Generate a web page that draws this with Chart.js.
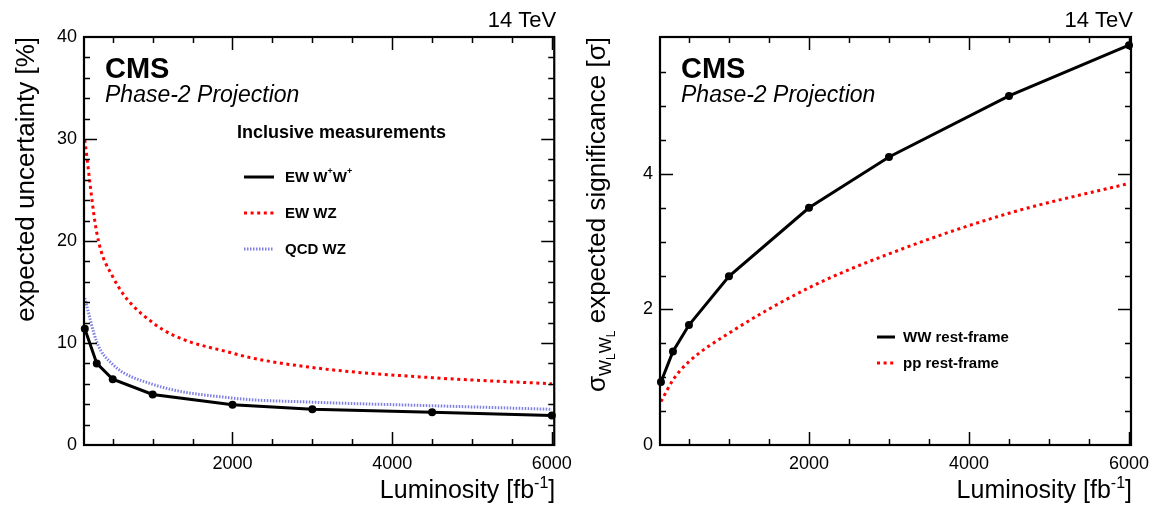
<!DOCTYPE html>
<html>
<head>
<meta charset="utf-8">
<script src="https://cdn.jsdelivr.net/npm/chart.js@4.4.1/dist/chart.umd.min.js"></script>
<style>
  html, body { margin: 0; padding: 0; background: #fff; }
  #wrap { position: relative; width: 1158px; height: 506px; background: #fff; overflow: hidden; }
  .pane { position: absolute; top: 0; height: 506px; }
</style>
</head>
<body>
<div id="wrap">
  <div class="pane" style="left:0;width:580px"><canvas id="c1" width="580" height="506"></canvas></div>
  <div class="pane" style="left:580px;width:578px"><canvas id="c2" width="578" height="506"></canvas></div>
</div>
<script>
// ---------------- data ----------------
const lumi = [150, 300, 500, 1000, 2000, 3000, 4500, 6000];
// left panel: expected uncertainty [%]
const ewWpWp = [11.4, 8.0, 6.45, 4.95, 3.95, 3.5, 3.2, 2.9];
const ewWZ   = [29.9, 20.8, 16.5, 12.0, 9.0, 7.6, 6.6, 6.0];
const qcdWZ  = [14.4, 10.1, 7.9, 5.95, 4.6, 4.2, 3.85, 3.5];
// right panel: expected significance [sigma]
const wwRestFrame = [0.93, 1.38, 1.77, 2.49, 3.50, 4.25, 5.15, 5.90];
const ppRestFrame = [0.64, 0.96, 1.23, 1.65, 2.32, 2.82, 3.42, 3.86];
// tick labels
const xTickLabels = [2000, 4000, 6000];
const yTickLabelsLeft = [0, 10, 20, 30, 40];
const yTickLabelsRight = [0, 2, 4];
// legends
const legendLeftTitle = 'Inclusive measurements';
const legendLeftLabels = ['EW W^+W^+', 'EW WZ', 'QCD WZ'];
const legendRightLabels = ['WW rest-frame', 'pp rest-frame'];

const FONT = "'Liberation Sans', Arial, Helvetica, sans-serif";
Chart.defaults.font.family = FONT;
Chart.defaults.color = '#000';

function pts(ys) { return lumi.map((x, i) => ({ x: x, y: ys[i] })); }
function range(a, b, s) { const r = []; for (let v = a; v <= b + 1e-9; v += s) r.push(+v.toFixed(6)); return r; }

// rich text: ^c superscript, _c subscript
function parseRich(str) {
  const segs = [];
  for (let i = 0; i < str.length; i++) {
    const ch = str[i];
    if ((ch === '^' || ch === '_') && i + 1 < str.length) { segs.push({ t: str[i + 1], m: ch }); i++; }
    else if (segs.length && segs[segs.length - 1].m === 'n') segs[segs.length - 1].t += ch;
    else segs.push({ t: ch, m: 'n' });
  }
  return segs;
}
function drawRich(ctx, str, x, y, size, weight, style) {
  const segs = parseRich(str);
  let cx = x;
  for (const s of segs) {
    const fs = s.m === 'n' ? size : Math.round(size * 0.62);
    ctx.font = (style || 'normal') + ' ' + weight + ' ' + fs + 'px ' + FONT;
    const dy = s.m === '^' ? -size * 0.42 : (s.m === '_' ? size * 0.25 : 0);
    ctx.fillText(s.t, cx, y + dy);
    cx += ctx.measureText(s.t).width;
  }
  return cx - x;
}

function frameAndTicks(chart, spec) {
  const { ctx, chartArea: a, scales: { x, y } } = chart;
  ctx.save();
  ctx.strokeStyle = '#000';
  ctx.lineWidth = 1.5;
  ctx.beginPath();
  for (const v of spec.xMinor) {
    const px = Math.round(x.getPixelForValue(v)) + 0.5;
    const len = spec.xMajor.includes(v) ? 13 : 6;
    ctx.moveTo(px, a.bottom); ctx.lineTo(px, a.bottom - len);
    ctx.moveTo(px, a.top); ctx.lineTo(px, a.top + len);
  }
  for (const v of spec.yMinor) {
    const py = Math.round(y.getPixelForValue(v)) + 0.5;
    const len = spec.yMajor.includes(v) ? 13 : 6;
    ctx.moveTo(a.left, py); ctx.lineTo(a.left + len, py);
    ctx.moveTo(a.right, py); ctx.lineTo(a.right - len, py);
  }
  ctx.stroke();
  ctx.lineWidth = 2.2;
  ctx.strokeRect(a.left, a.top, a.right - a.left, a.bottom - a.top);
  ctx.restore();
}

function drawLegendLine(ctx, ds, x0, x1, yy) {
  ctx.save();
  ctx.strokeStyle = ds.borderColor;
  ctx.lineWidth = ds.borderWidth;
  ctx.setLineDash(ds.borderDash || []);
  ctx.beginPath(); ctx.moveTo(x0, yy); ctx.lineTo(x1, yy); ctx.stroke();
  ctx.restore();
}

function commonTexts(chart) {
  const { ctx, chartArea: a } = chart;
  ctx.save();
  ctx.fillStyle = '#000';
  ctx.textBaseline = 'alphabetic';
  ctx.textAlign = 'right';
  ctx.font = '22px ' + FONT;
  ctx.fillText('14 TeV', a.right + 2, 27);
  ctx.textAlign = 'left';
  ctx.font = 'bold 29px ' + FONT;
  ctx.fillText('CMS', a.left + 21, 78);
  ctx.font = 'italic 23px ' + FONT;
  ctx.fillText('Phase-2 Projection', a.left + 21, 102);
  // x title
  const t1 = 'Luminosity [fb', t3 = ']';
  ctx.font = '16px ' + FONT; const w2 = ctx.measureText('-1').width;
  ctx.font = '25px ' + FONT;
  const w1 = ctx.measureText(t1).width, w3 = ctx.measureText(t3).width;
  let sx = a.right + 1 - (w1 + w2 + w3);
  ctx.fillText(t1, sx, 498); sx += w1;
  ctx.font = '16px ' + FONT; ctx.fillText('-1', sx, 488); sx += w2;
  ctx.font = '25px ' + FONT; ctx.fillText(t3, sx, 498);
  ctx.restore();
}

const xScaleCfg = (min, max) => ({
  type: 'linear', min: min, max: max,
  grid: { display: false, drawTicks: false }, border: { display: false },
  ticks: { font: { size: 18 }, color: '#000', padding: 8, maxRotation: 0, autoSkip: false,
           callback: v => String(v) },
  afterBuildTicks: s => { s.ticks = xTickLabels.map(v => ({ value: v })); },
  afterFit: s => { s.height = 61; }
});
const yScaleCfg = (min, max, labels, width) => ({
  type: 'linear', min: min, max: max,
  grid: { display: false, drawTicks: false }, border: { display: false },
  ticks: { font: { size: 18 }, color: '#000', padding: 7, callback: v => String(v) },
  afterBuildTicks: s => { s.ticks = labels.map(v => ({ value: v })); },
  afterFit: s => { s.width = width; }
});

// ---------------- left chart ----------------
const leftPlugin = {
  id: 'leftDeco',
  afterDraw(chart) {
    frameAndTicks(chart, { xMajor: [2000, 4000, 6000], xMinor: range(500, 6000, 500), yMajor: [0, 10, 20, 30, 40], yMinor: range(2, 38, 2) });
    commonTexts(chart);
    const ctx = chart.ctx;
    ctx.save();
    ctx.fillStyle = '#000';
    // y title
    ctx.translate(34, 37); ctx.rotate(-Math.PI / 2);
    ctx.textAlign = 'right'; ctx.font = '26px ' + FONT;
    ctx.fillText('expected uncertainty [%]', 0, 0);
    ctx.restore();
    // legend
    ctx.save();
    ctx.fillStyle = '#000';
    ctx.textAlign = 'left';
    ctx.font = 'bold 18px ' + FONT;
    ctx.fillText(legendLeftTitle, 237, 138);
    const ys = [177, 213, 249];
    chart.data.datasets.forEach((ds, i) => {
      drawLegendLine(ctx, ds, 244, 274, ys[i]);
      ctx.fillStyle = '#000';
      ctx.textBaseline = 'middle';
      drawRich(ctx, legendLeftLabels[i], 285, ys[i] + 1, 15, 'bold');
    });
    ctx.restore();
  }
};

new Chart(document.getElementById('c1'), {
  type: 'line',
  data: {
    datasets: [
      { label: legendLeftLabels[0], data: pts(ewWpWp), borderColor: '#000', backgroundColor: '#000', borderWidth: 3,
        pointRadius: 4, pointBackgroundColor: '#000', pointBorderWidth: 0, tension: 0, clip: false },
      { label: legendLeftLabels[1], data: pts(ewWZ), borderColor: '#ff0000', borderWidth: 3, borderDash: [3, 3.6],
        pointRadius: 0, cubicInterpolationMode: 'monotone' },
      { label: legendLeftLabels[2], data: pts(qcdWZ), borderColor: '#7f7fe6', borderWidth: 3, borderDash: [1.5, 1.5],
        pointRadius: 0, cubicInterpolationMode: 'monotone' }
    ]
  },
  options: {
    responsive: false, animation: false, events: [],
    layout: { padding: { left: 0, top: 37, right: 25, bottom: 0 } },
    plugins: { legend: { display: false }, tooltip: { enabled: false } },
    scales: { x: xScaleCfg(140, 6030), y: yScaleCfg(0, 40, yTickLabelsLeft, 84) }
  },
  plugins: [leftPlugin]
});

// ---------------- right chart ----------------
const rightPlugin = {
  id: 'rightDeco',
  afterDraw(chart) {
    frameAndTicks(chart, { xMajor: [2000, 4000, 6000], xMinor: range(500, 6000, 500), yMajor: [0, 2, 4], yMinor: range(0.5, 5.5, 0.5) });
    commonTexts(chart);
    const ctx = chart.ctx;
    // y title with nested subscripts
    ctx.save();
    ctx.fillStyle = '#000';
    const parts = [
      { t: '\u03C3', s: 26, dy: 0 },
      { t: 'W', s: 17, dy: 6 }, { t: 'L', s: 12, dy: 10 },
      { t: 'W', s: 17, dy: 6 }, { t: 'L', s: 12, dy: 10 },
      { t: ' expected significance [\u03C3]', s: 26, dy: 0 }
    ];
    let total = 0;
    parts.forEach(p => { ctx.font = p.s + 'px ' + FONT; p.w = ctx.measureText(p.t).width; total += p.w; });
    ctx.translate(25, 37 + total); ctx.rotate(-Math.PI / 2);
    ctx.textAlign = 'left';
    let cx = 0;
    parts.forEach(p => { ctx.font = p.s + 'px ' + FONT; ctx.fillText(p.t, cx, p.dy); cx += p.w; });
    ctx.restore();
    // legend
    ctx.save();
    const ys = [337, 363];
    chart.data.datasets.forEach((ds, i) => {
      drawLegendLine(ctx, ds, 297, 315, ys[i]);
      ctx.fillStyle = '#000';
      ctx.textBaseline = 'middle';
      drawRich(ctx, legendRightLabels[i], 323, ys[i] + 1, 15, 'bold');
    });
    ctx.restore();
  }
};

new Chart(document.getElementById('c2'), {
  type: 'line',
  data: {
    datasets: [
      { label: legendRightLabels[0], data: pts(wwRestFrame), borderColor: '#000', backgroundColor: '#000', borderWidth: 3,
        pointRadius: 4, pointBackgroundColor: '#000', pointBorderWidth: 0, tension: 0, clip: false },
      { label: legendRightLabels[1], data: pts(ppRestFrame), borderColor: '#ff0000', borderWidth: 3, borderDash: [3, 3.6],
        pointRadius: 0, cubicInterpolationMode: 'monotone' }
    ]
  },
  options: {
    responsive: false, animation: false, events: [],
    layout: { padding: { left: 0, top: 37, right: 27, bottom: 0 } },
    plugins: { legend: { display: false }, tooltip: { enabled: false } },
    scales: { x: xScaleCfg(138, 6025), y: yScaleCfg(0, 6.02, yTickLabelsRight, 80) }
  },
  plugins: [rightPlugin]
});
</script>
</body>
</html>
